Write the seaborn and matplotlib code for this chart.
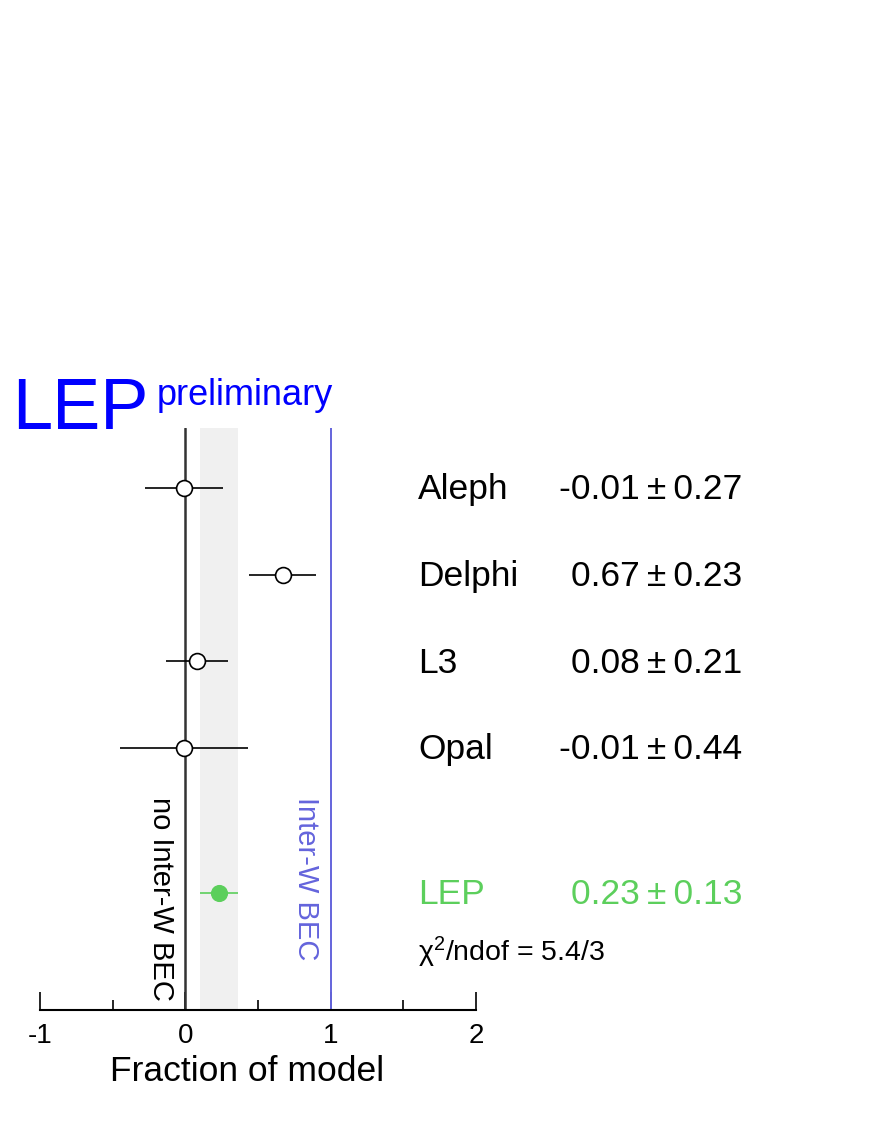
import numpy as np
import pandas as pd
import matplotlib
matplotlib.use("Agg")
import matplotlib.pyplot as plt
import seaborn as sns

# Measurements (fraction of model with inter-W BEC)
experiments = ["Aleph", "Delphi", "L3", "Opal"]
values = [-0.01, 0.67, 0.08, -0.01]
errors = [0.27, 0.23, 0.21, 0.44]
rows = [1, 2, 3, 4]

lep_value = 0.23
lep_error = 0.13
lep_row = 5.67
chi2_text = "\u03c7$^2$/ndof = 5.4/3"

xticks_major = [-1, 0, 1, 2]
xticks_minor = [-0.5, 0.5, 1.5]

green = "#5ccf5c"
violet = "#6464dc"

sns.set_theme(style="white")
plt.rcParams["font.family"] = ["Liberation Sans", "DejaVu Sans"]
plt.rcParams["mathtext.fontset"] = "custom"
plt.rcParams["mathtext.rm"] = "Liberation Sans"
plt.rcParams["mathtext.it"] = "Liberation Sans:italic"
plt.rcParams["text.color"] = "black"

df = pd.DataFrame({"exp": experiments, "value": values, "err": errors, "row": rows})

fig = plt.figure(figsize=(8.72, 11.28), dpi=100)
ax = fig.add_axes([0.0459, 0.1046, 0.5, 0.516])

# band of the combined result and reference lines
ax.axvspan(lep_value - lep_error, lep_value + lep_error, color="#f0f0f0", lw=0, zorder=0)
ax.axvline(0, color="#333333", lw=1.8, zorder=1)
ax.axvline(1, color=violet, lw=1.4, zorder=1)

# individual experiments
ax.errorbar(df["value"], df["row"], xerr=df["err"], fmt="none", ecolor="black",
            elinewidth=1.2, capsize=0, zorder=2)
sns.scatterplot(data=df, x="value", y="row", ax=ax, s=130, facecolor="white",
                edgecolor="black", linewidth=1.2, zorder=3)

# combined LEP
ax.errorbar([lep_value], [lep_row], xerr=[lep_error], fmt="none", ecolor=green,
            elinewidth=1.2, capsize=0, zorder=2)
sns.scatterplot(x=[lep_value], y=[lep_row], ax=ax, s=130, color=green,
                edgecolor=green, zorder=3)

ax.set_xlim(-1, 2)
ax.set_ylim(7.02, 0.31)
ax.set_yticks([])
for side in ["left", "right", "top"]:
    ax.spines[side].set_visible(False)
ax.spines["bottom"].set_linewidth(1.5)
ax.spines["bottom"].set_color("black")
ax.set_xticks(xticks_major)
ax.set_xticklabels(["-1", "0", "1", "2"])
ax.set_xticks(xticks_minor, minor=True)
ax.tick_params(axis="x", which="major", direction="in", length=13, width=1.2,
               pad=9, labelsize=20, colors="black", bottom=True)
ax.tick_params(axis="x", which="minor", direction="in", length=7, width=1.2,
               colors="black", bottom=True)
ax.set_ylabel("")
ax.set_xlabel("Fraction of model", fontsize=25.5, color="black")
ax.xaxis.set_label_coords(0.475, -0.078)

# rotated labels for the two hypotheses
ax.text(-0.17, 4.56, "no Inter-W BEC", rotation=-90, ha="center", va="top",
        fontsize=21, color="black")
ax.text(0.83, 4.56, "Inter-W BEC", rotation=-90, ha="center", va="top",
        fontsize=21, color=violet)

# table on the right
name_x = 1.60
val_x = 3.834
pm = "\u2009\u00b1\u2009"
for exp, v, e, r in zip(experiments, values, errors, rows):
    ax.text(name_x, r + 0.13, exp, fontsize=25.5, ha="left", va="baseline",
            color="black", clip_on=False)
    ax.text(val_x, r + 0.13, f"{v:.2f}{pm}{e:.2f}", fontsize=25.5, ha="right",
            va="baseline", color="black", clip_on=False)
ax.text(name_x, lep_row + 0.13, "LEP", fontsize=25.5, ha="left", va="baseline",
        color=green, clip_on=False)
ax.text(val_x, lep_row + 0.13, f"{lep_value:.2f}{pm}{lep_error:.2f}", fontsize=25.5,
        ha="right", va="baseline", color=green, clip_on=False)
ax.text(name_x, 6.455, chi2_text, fontsize=20.5, ha="left", va="baseline",
        color="black", clip_on=False)

# header
fig.text(12 / 872, 1 - 429 / 1128, "LEP", fontsize=52, color="blue",
         ha="left", va="baseline")
fig.text(157 / 872, 1 - 405 / 1128, "preliminary", fontsize=26, color="blue",
         ha="left", va="baseline")

fig.savefig("out.png", dpi=100, facecolor="white")
